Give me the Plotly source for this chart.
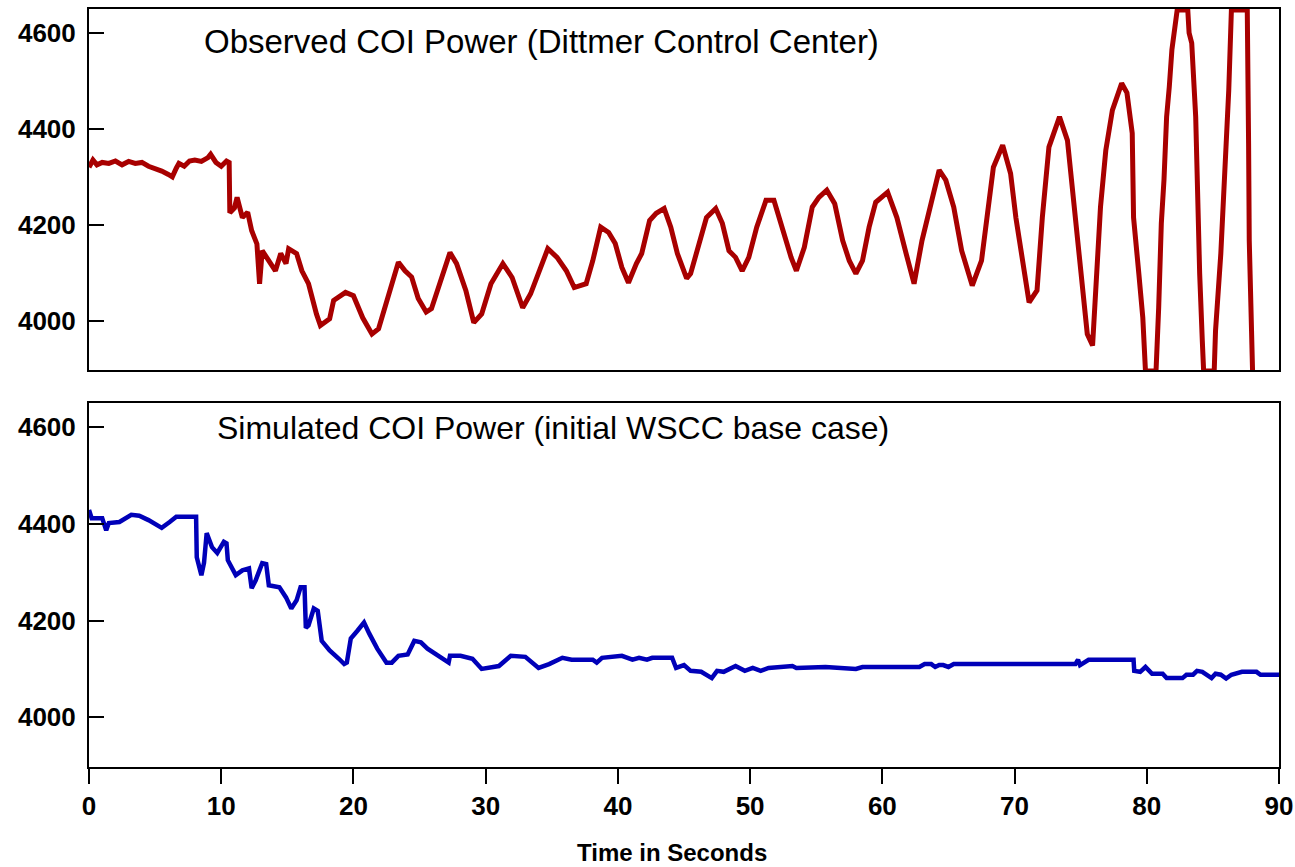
import plotly.graph_objects as go

# Observed COI power (Dittmer Control Center): time [s], power [MW]
obs_t = [
    0.0, 0.3, 0.6, 1.0, 1.5, 2.0, 2.5, 3.0, 3.5, 4.0,
    4.5, 5.0, 5.5, 6.0, 6.3, 6.6, 6.8, 7.2, 7.6, 8.0,
    8.5, 9.0, 9.2, 9.6, 10.0, 10.4, 10.6, 10.65, 11.0, 11.2,
    11.6, 12.0, 12.3, 12.7, 12.9, 13.1, 13.4, 14.1, 14.5, 14.9,
    15.1, 15.7, 16.1, 16.6, 17.2, 17.5, 18.2, 18.5, 19.4, 20.0,
    20.7, 21.4, 21.9, 22.7, 23.4, 23.9, 24.4, 24.9, 25.5, 25.9,
    26.5, 27.3, 27.8, 28.5, 29.1, 29.7, 30.4, 31.3, 32.0, 32.8,
    33.4, 34.0, 34.7, 35.4, 36.1, 36.7, 37.6, 38.1, 38.7, 39.3,
    39.8, 40.3, 40.8, 41.4, 41.8, 42.4, 42.9, 43.5, 44.0, 44.5,
    45.2, 45.5, 46.1, 46.7, 47.4, 47.9, 48.4, 48.9, 49.4, 49.9,
    50.5, 51.2, 51.8, 52.4, 53.1, 53.5, 54.1, 54.7, 55.2, 55.8,
    56.4, 57.0, 57.5, 58.0, 58.5, 59.0, 59.5, 60.4, 61.1, 61.8,
    62.4, 63.0, 63.5, 64.3, 64.8, 65.4, 66.0, 66.8, 67.5, 67.9,
    68.4, 69.1, 69.7, 70.1, 70.6, 71.1, 71.7, 72.1, 72.6, 73.4,
    74.0, 74.4, 74.7, 75.1, 75.5, 75.9, 76.2, 76.5, 76.9, 77.4,
    78.1, 78.5, 78.9, 79.0, 79.4, 79.7, 79.9, 80.7, 80.9, 81.1,
    81.3, 81.5, 81.7, 81.9, 82.3, 83.1, 83.2, 83.4, 83.7, 83.85,
    84.0, 84.2, 84.3, 85.1, 85.2, 85.6, 86.0, 86.2, 86.4, 87.6,
    87.7, 87.75, 88.0]
obs_p = [
    4320, 4335, 4325, 4330, 4328, 4333, 4325, 4332, 4328, 4330,
    4322, 4318, 4312, 4305, 4300, 4318, 4328, 4322, 4333, 4335,
    4332, 4340, 4347, 4330, 4322, 4333, 4330, 4225, 4235, 4257,
    4215, 4226, 4188, 4160, 4077, 4146, 4132, 4104, 4140, 4119,
    4150, 4140, 4104, 4077, 4014, 3990, 4004, 4042, 4059, 4052,
    4006, 3972, 3983, 4056, 4122, 4104, 4091, 4046, 4018, 4025,
    4077, 4142, 4119, 4063, 3996, 4014, 4077, 4119, 4090, 4027,
    4056, 4098, 4150, 4132, 4104, 4069, 4077, 4125, 4195, 4184,
    4161, 4111, 4079, 4119, 4140, 4209, 4224, 4234, 4195, 4140,
    4088, 4098, 4153, 4215, 4234, 4203, 4146, 4132, 4104, 4132,
    4195, 4251, 4251, 4195, 4132, 4104, 4153, 4237, 4257, 4272,
    4244, 4167, 4125, 4098, 4125, 4195, 4247, 4268, 4215, 4140,
    4077, 4167, 4224, 4314, 4293, 4237, 4146, 4073, 4125, 4215,
    4320, 4366, 4307, 4215, 4119, 4038, 4063, 4215, 4362, 4425,
    4376, 4266, 4182, 4056, 3972, 3948, 4098, 4237, 4355, 4439,
    4495, 4475, 4391, 4215, 4098, 4006, 3895, 3895, 4027, 4203,
    4293, 4425, 4487, 4565, 4648, 4648, 4600, 4579, 4425, 4251,
    4098, 3958, 3895, 3895, 3979, 4140, 4349, 4481, 4648, 4648,
    4370, 4167, 3895]

# Simulated COI power (initial WSCC base case)
sim_t = [
    0.0, 0.1, 0.2, 1.0, 1.3, 1.5, 2.3, 3.2, 3.8, 4.5,
    5.5, 6.1, 6.6, 8.1, 8.15, 8.5, 8.7, 8.9, 9.3, 9.7,
    10.2, 10.4, 10.5, 11.1, 11.6, 12.1, 12.3, 12.6, 13.1, 13.4,
    13.6, 14.4, 14.9, 15.3, 15.7, 16.0, 16.3, 16.4, 16.6, 17.0,
    17.3, 17.6, 18.2, 18.9, 19.3, 19.5, 19.8, 20.3, 20.8, 21.2,
    21.8, 22.5, 22.9, 23.4, 24.1, 24.6, 25.1, 25.6, 26.7, 27.2,
    27.3, 28.1, 29.0, 29.7, 31.0, 31.5, 31.9, 33.0, 34.0, 34.8,
    35.8, 36.5, 38.1, 38.4, 38.8, 40.3, 41.1, 41.6, 42.2, 42.6,
    44.1, 44.4, 45.0, 45.5, 46.3, 47.1, 47.5, 48.0, 48.9, 49.6,
    50.2, 50.8, 51.4, 53.2, 53.5, 55.7, 58.0, 58.5, 62.8, 63.2,
    63.7, 64.0, 64.3, 64.6, 65.0, 65.4, 74.6, 74.8, 74.95, 75.6,
    79.0, 79.05, 79.5, 79.9, 80.4, 81.2, 81.5, 82.7, 83.0, 83.5,
    83.8, 84.2, 84.6, 84.9, 85.2, 85.6, 86.0, 86.4, 87.2, 88.3,
    88.6, 90.0]
sim_p = [
    4429, 4420, 4412, 4412, 4387, 4402, 4404, 4419, 4417, 4408,
    4392, 4404, 4415, 4415, 4331, 4294, 4320, 4381, 4352, 4340,
    4363, 4360, 4325, 4294, 4304, 4308, 4267, 4283, 4319, 4317,
    4273, 4269, 4248, 4225, 4242, 4269, 4269, 4185, 4190, 4225,
    4220, 4158, 4138, 4121, 4110, 4113, 4163, 4179, 4196, 4173,
    4142, 4113, 4113, 4127, 4130, 4158, 4155, 4142, 4123, 4113,
    4127, 4127, 4121, 4100, 4106, 4117, 4127, 4125, 4102, 4110,
    4123, 4119, 4119, 4113, 4123, 4127, 4119, 4123, 4119, 4123,
    4123, 4102, 4108, 4096, 4094, 4081, 4096, 4094, 4106, 4096,
    4102, 4096, 4102, 4106, 4102, 4104, 4100, 4104, 4104, 4110,
    4110, 4104, 4108, 4108, 4104, 4110, 4110, 4119, 4108, 4119,
    4119, 4096, 4094, 4104, 4090, 4090, 4081, 4081, 4088, 4088,
    4096, 4094, 4088, 4081, 4090, 4088, 4080, 4088, 4094, 4094,
    4088, 4088]

x_ticks = [0, 10, 20, 30, 40, 50, 60, 70, 80, 90]
y_ticks = [4000, 4200, 4400, 4600]
top_label = "Observed COI Power (Dittmer Control Center)"
bottom_label = "Simulated COI Power (initial WSCC base case)"
x_title = "Time in Seconds"

FONT = "Liberation Sans, Arial, sans-serif"
RED = "#A80000"
BLUE = "#0000B8"

fig = go.Figure()
fig.add_trace(go.Scatter(x=obs_t, y=obs_p, mode="lines",
                         line=dict(color=RED, width=5), xaxis="x", yaxis="y",
                         showlegend=False))
fig.add_trace(go.Scatter(x=sim_t, y=sim_p, mode="lines",
                         line=dict(color=BLUE, width=4.5), xaxis="x2", yaxis="y2",
                         showlegend=False))

tickfont = dict(family=FONT, size=26, color="black", weight="bold")
common_y = dict(range=[3897, 4650], tickvals=y_ticks, ticks="inside", ticklen=15,
                tickwidth=2, tickcolor="black", showline=True, linecolor="black",
                linewidth=2, mirror=True, showgrid=False, zeroline=False,
                tickfont=tickfont, ticklabelstandoff=6, automargin=False)

fig.update_layout(
    width=1295, height=867,
    margin=dict(l=89, r=16, t=9, b=100, autoexpand=False),
    paper_bgcolor="white", plot_bgcolor="white",
    xaxis=dict(domain=[0, 1], anchor="y", range=[0, 90], showticklabels=False,
               ticks="", showline=True, linecolor="black", linewidth=2, mirror=True,
               showgrid=False, zeroline=False, automargin=False),
    yaxis=dict(domain=[0.5237, 1], anchor="x", **common_y),
    xaxis2=dict(domain=[0, 1], anchor="y2", range=[0, 90], tickvals=x_ticks,
                ticks="outside", ticklen=15, tickwidth=2, tickcolor="black",
                showline=True, linecolor="black", linewidth=2, mirror=True,
                showgrid=False, zeroline=False, tickfont=tickfont, automargin=False),
    yaxis2=dict(domain=[0, 0.480], anchor="x2", **common_y),
    annotations=[
        dict(text=top_label, xref="x domain", yref="y domain", x=0.095, y=0.911,
             xanchor="left", yanchor="middle", showarrow=False,
             font=dict(family=FONT, size=33, color="black")),
        dict(text=bottom_label, xref="x2 domain", yref="y2 domain", x=0.106, y=0.931,
             xanchor="left", yanchor="middle", showarrow=False,
             font=dict(family=FONT, size=32, color="black")),
        dict(text=x_title, xref="paper", yref="paper", x=0.49, y=0,
             xanchor="center", yanchor="top", yshift=-70, showarrow=False,
             font=dict(family=FONT, size=24, color="black", weight="bold")),
    ],
)

fig.write_html("out.html", config={"displayModeBar": False},
               post_script="document.body.style.margin='0px';document.body.style.padding='0px';")
